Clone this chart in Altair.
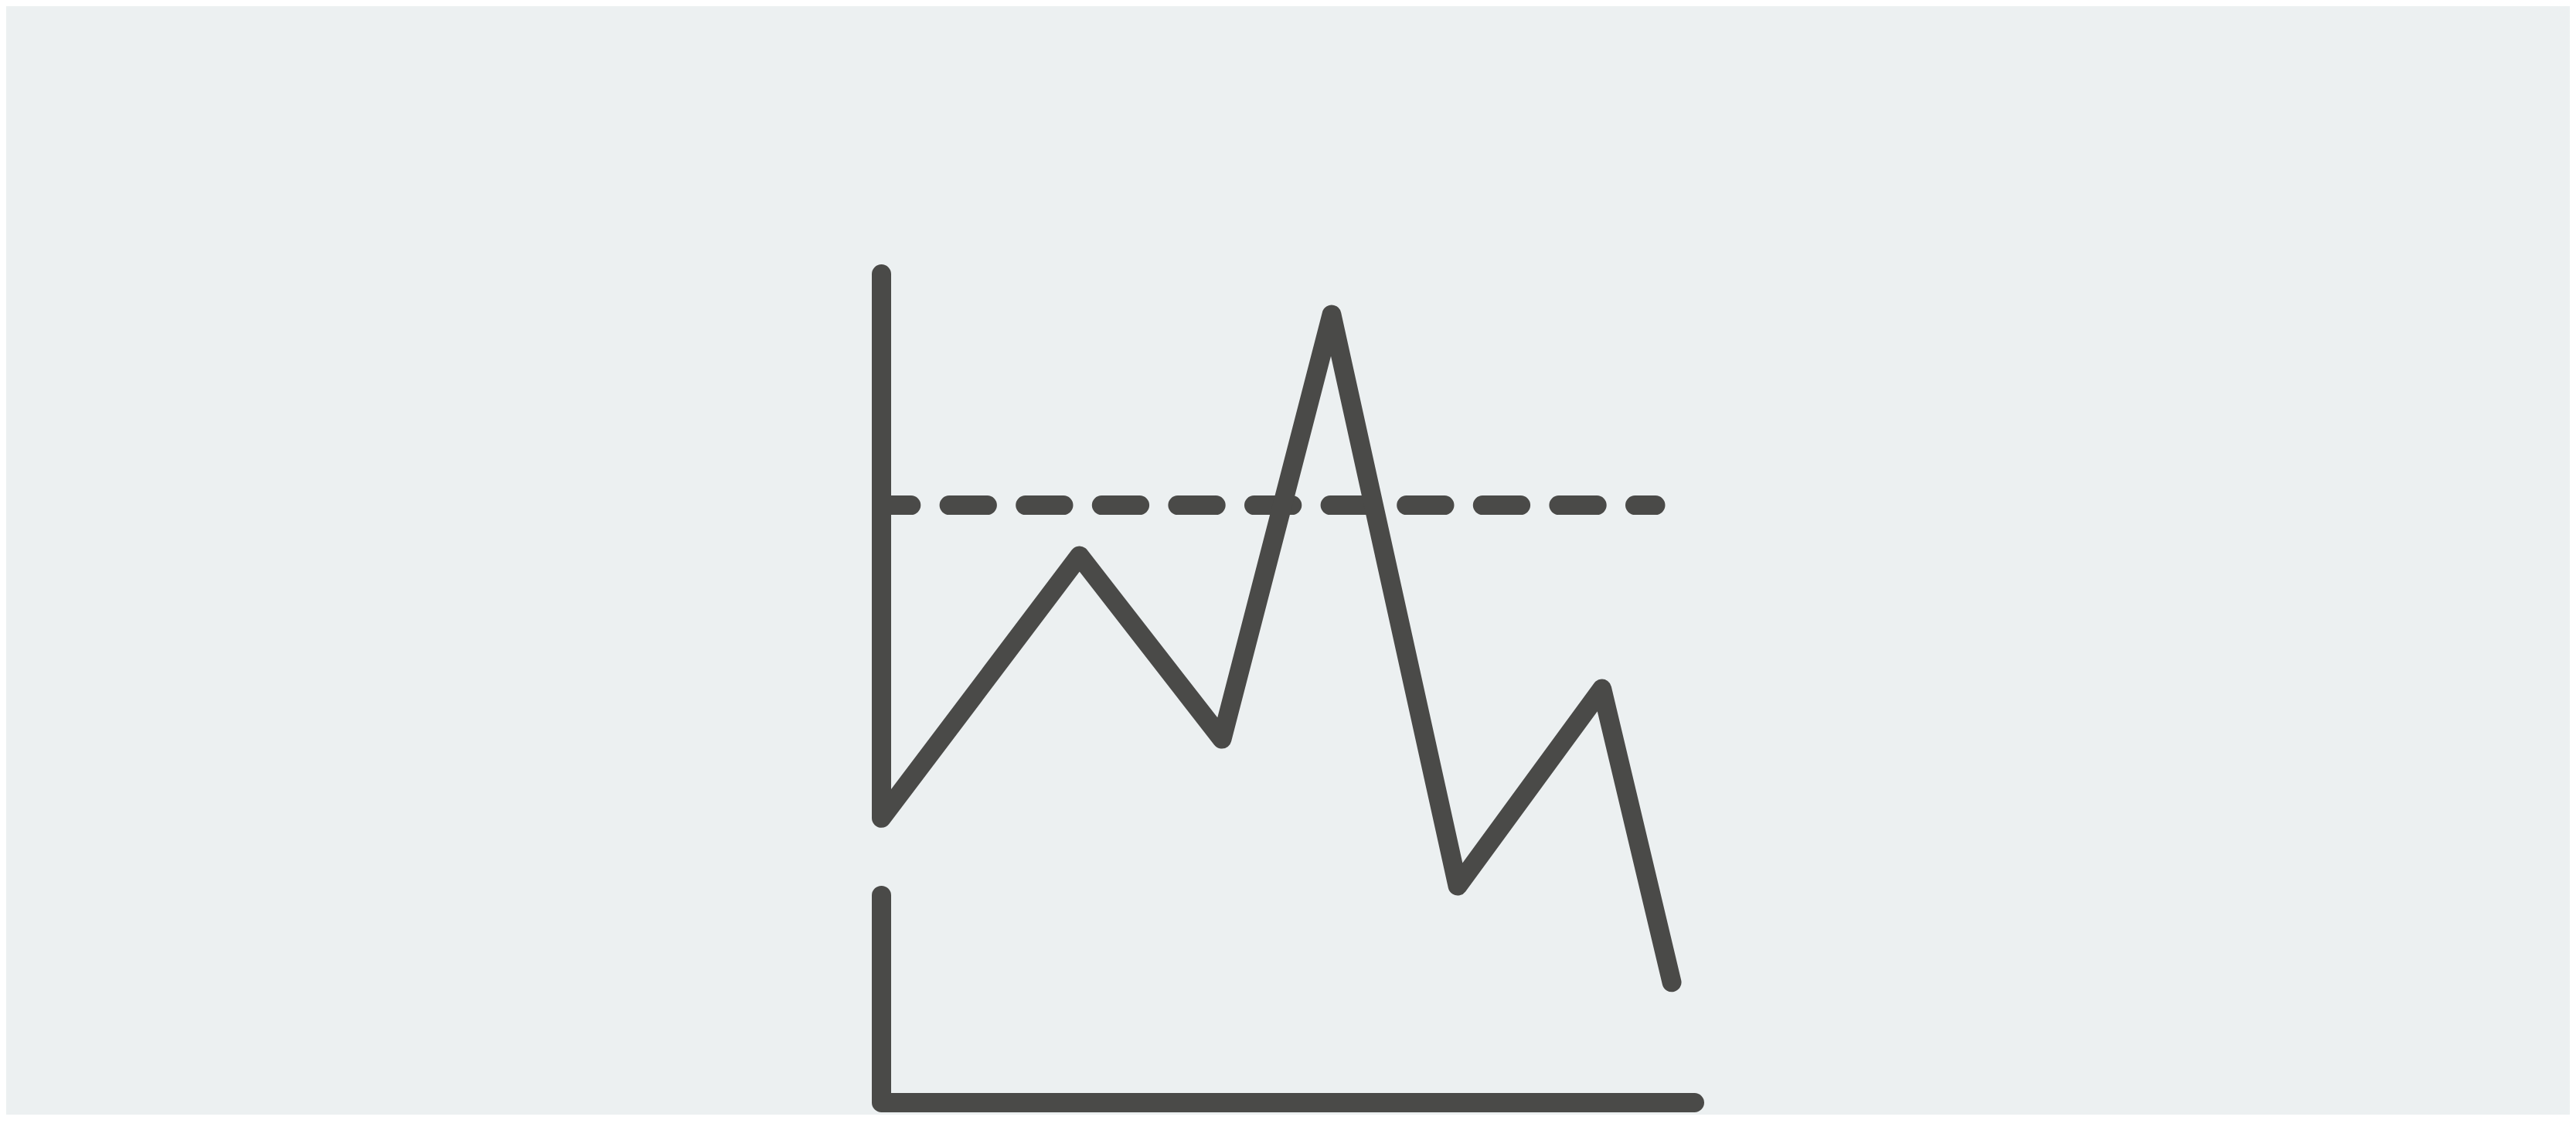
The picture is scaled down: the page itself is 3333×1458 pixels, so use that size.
import altair as alt
import pandas as pd

# Main series (icon-like line chart), in chart units
series_x = [0.0, 0.0, 24.35, 41.87, 55.37, 70.87, 88.61, 97.2]
series_y = [101.9, 35.0, 67.25, 44.72, 96.9, 26.66, 50.9, 14.8]

# Dashed threshold line
threshold_x = [0.0, 95.2]
threshold_y = [73.47, 73.47]

# Lower axis (L shape)
axis_x = [0.0, 0.0, 100.0]
axis_y = [25.48, 0.0, 0.0]

BG = "#ECF0F1"
INK = "#4A4A48"

W, H = 3317, 1434
PX = 10.52
X0_PX, Y0_PX = 1140.5, 1426.5
x_dom = [(8 - X0_PX) / PX, (8 + W - X0_PX) / PX]
y_dom = [(Y0_PX - 8 - H) / PX, (Y0_PX - 8) / PX]

xs = alt.Scale(domain=x_dom, zero=False, nice=False)
ys = alt.Scale(domain=y_dom, zero=False, nice=False)

def frame(xv, yv):
    return pd.DataFrame({"x": xv, "y": yv, "i": list(range(len(xv)))})

def line(df, **kw):
    return alt.Chart(df).mark_line(
        color=INK, strokeWidth=25, strokeCap="round", strokeJoin="round", **kw
    ).encode(
        x=alt.X("x:Q", scale=xs, axis=None),
        y=alt.Y("y:Q", scale=ys, axis=None),
        order=alt.Order("i:Q"),
    )

chart = alt.layer(
    line(frame(threshold_x, threshold_y), strokeDash=[49.3, 49.3], strokeDashOffset=11),
    line(frame(axis_x, axis_y)),
    line(frame(series_x, series_y)),
).properties(
    width=W, height=H, padding=0, autosize=alt.AutoSizeParams(type="none"),
    background=BG,
).configure_view(stroke=None)

chart.save("out.html", embed_options={"renderer": "svg", "actions": False})
